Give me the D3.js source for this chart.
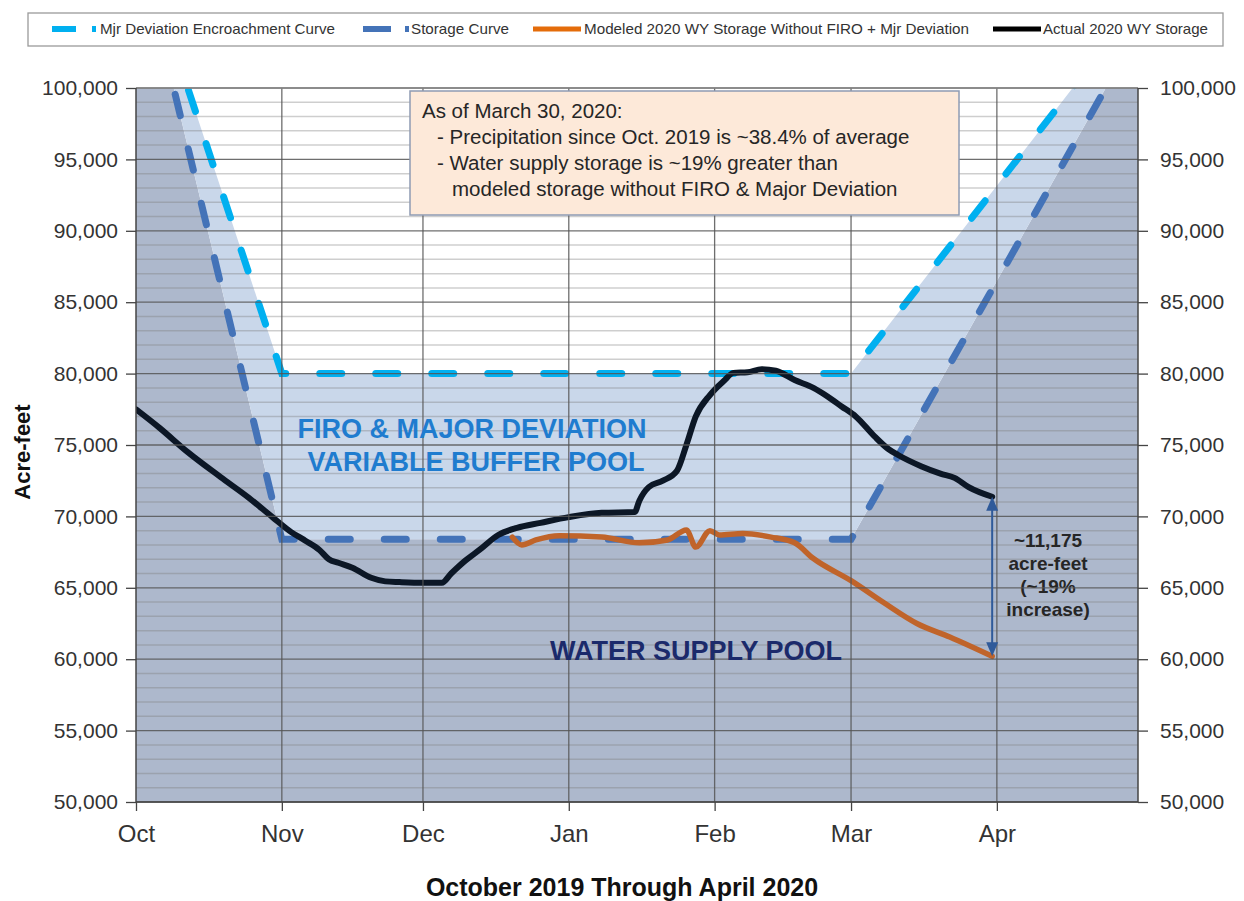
<!DOCTYPE html>
<html><head><meta charset="utf-8">
<script src="https://cdn.jsdelivr.net/npm/d3@7"></script>
<style>body{margin:0;background:#fff;} svg{display:block;font-family:"Liberation Sans",Arial,sans-serif;}</style>
</head><body><svg id="c" width="1244" height="901"></svg>
<script>
const monthTicks = ["2019-10-01","2019-11-01","2019-12-01","2020-01-01","2020-02-01","2020-03-01","2020-04-01"];
const monthLabels = ["Oct","Nov","Dec","Jan","Feb","Mar","Apr"];
const yTicks = [50000,55000,60000,65000,70000,75000,80000,85000,90000,95000,100000];
const xDomain = ["2019-10-01","2020-05-01"];
const yDomain = [50000,100000];

const curveDates = ["2019-10-01","2019-11-01","2020-03-01","2020-05-13"];
const storageCurve = [111000,68400,68400,111000];
const encroachCurve = [111000,80000,80000,111000];

const actualDates = ["2019-10-01","2019-10-06","2019-10-12","2019-10-19","2019-10-25","2019-10-30","2019-11-03","2019-11-06","2019-11-09","2019-11-11","2019-11-13","2019-11-16","2019-11-20","2019-11-23","2019-11-26","2019-12-01","2019-12-05","2019-12-07","2019-12-10","2019-12-13","2019-12-17","2019-12-21","2019-12-26","2020-01-01","2020-01-08","2020-01-15","2020-01-16","2020-01-18","2020-01-21","2020-01-24","2020-01-26","2020-01-28","2020-01-31","2020-02-03","2020-02-05","2020-02-08","2020-02-11","2020-02-14","2020-02-18","2020-02-22","2020-02-25","2020-02-28","2020-03-02","2020-03-06","2020-03-09","2020-03-11","2020-03-16","2020-03-20","2020-03-23","2020-03-26","2020-03-31"];
const actualValues = [77500,76200,74500,72750,71300,69950,68900,68300,67650,67000,66750,66400,65700,65450,65400,65350,65350,66000,66900,67650,68700,69200,69550,69950,70250,70300,71100,72050,72500,73200,75000,77000,78500,79500,80050,80100,80300,80200,79550,79000,78400,77700,77000,75600,74700,74300,73500,73000,72700,72050,71375];

const modeledDates = ["2019-12-20","2019-12-22","2019-12-25","2019-12-30","2020-01-08","2020-01-16","2020-01-22","2020-01-26","2020-01-28","2020-01-31","2020-02-02","2020-02-07","2020-02-13","2020-02-18","2020-02-22","2020-03-01","2020-03-08","2020-03-15","2020-03-22","2020-03-31"];
const modeledValues = [68550,68000,68350,68650,68550,68150,68350,69050,67850,69000,68700,68800,68550,68150,67050,65500,63950,62500,61550,60200];

const legendLabels = ["Mjr Deviation Encroachment Curve","Storage Curve","Modeled 2020 WY Storage Without FIRO + Mjr Deviation","Actual 2020 WY Storage"];
const boxLines = ["As of March 30, 2020:","- Precipitation since Oct. 2019 is ~38.4% of average","- Water supply storage is ~19% greater than","modeled storage without FIRO & Major Deviation"];
const diffLines = ["~11,175","acre-feet","(~19%","increase)"];

const P = d3.utcParse("%Y-%m-%d");
const svg = d3.select("#c");
const L=136, R=1138, T=88, B=802;
const x = d3.scaleUtc().domain(xDomain.map(P)).range([L,R]);
const y = d3.scaleLinear().domain(yDomain).range([B,T]);

svg.append("defs").append("clipPath").attr("id","pc").append("rect")
  .attr("x",L).attr("y",T).attr("width",R-L).attr("height",B-T);

const g = svg.append("g");
const clipG = g.append("g").attr("clip-path","url(#pc)");
clipG.append("rect").attr("x",L).attr("y",T).attr("width",R-L).attr("height",B-T).attr("fill","#fff");

const curveData = curveDates.map((d,i)=>({date:P(d), s:storageCurve[i], e:encroachCurve[i]}));
clipG.append("path").datum(curveData)
  .attr("d", d3.area().x(d=>x(d.date)).y0(y(50000)).y1(d=>y(d.s)))
  .attr("fill","#adb8cc");
clipG.append("path").datum(curveData)
  .attr("d", d3.area().x(d=>x(d.date)).y0(d=>y(d.s)).y1(d=>y(d.e)))
  .attr("fill","#c9d7ea");

// diff annotation text (under grid)
const diffT = g.append("text").attr("text-anchor","middle").attr("font-weight","bold")
  .attr("font-size",19).attr("fill","#262626");
diffLines.forEach((t,i)=>diffT.append("tspan").attr("x",1048).attr("y",547+i*23).text(t));

// grid
const minor = d3.range(50000,100001,1000).filter(v=>v%5000!==0);
clipG.selectAll(".mn").data(minor).enter().append("line")
  .attr("x1",L).attr("x2",R).attr("y1",d=>y(d)).attr("y2",d=>y(d))
  .attr("stroke","#7f7f7f").attr("stroke-opacity",0.38).attr("stroke-width",1.5);
g.selectAll(".mj").data(yTicks).enter().append("line")
  .attr("x1",L).attr("x2",R).attr("y1",d=>y(d)).attr("y2",d=>y(d))
  .attr("stroke","#555").attr("stroke-opacity",0.85).attr("stroke-width",1.3);
g.selectAll(".vg").data(monthTicks.slice(1)).enter().append("line")
  .attr("x1",d=>x(P(d))).attr("x2",d=>x(P(d))).attr("y1",T).attr("y2",B)
  .attr("stroke","#555").attr("stroke-opacity",0.85).attr("stroke-width",1.3);

// pool labels
g.append("text").attr("x",472).attr("y",438).attr("text-anchor","middle").attr("font-weight","bold")
  .attr("font-size",27).attr("fill","#1f7ccf").text("FIRO & MAJOR DEVIATION");
g.append("text").attr("x",476).attr("y",471).attr("text-anchor","middle").attr("font-weight","bold")
  .attr("font-size",27).attr("fill","#1f7ccf").text("VARIABLE BUFFER POOL");
g.append("text").attr("x",696).attr("y",660).attr("text-anchor","middle").attr("font-weight","bold")
  .attr("font-size",27).attr("fill","#1b2a6b").text("WATER SUPPLY POOL");

// dashed curves
clipG.append("path").attr("d", d3.line().x(d=>x(d.date)).y(d=>y(d.e))(curveData))
  .attr("fill","none").attr("stroke","#00b0f0").attr("stroke-width",7)
  .attr("stroke-dasharray","22,34").attr("stroke-linecap","round");
clipG.append("path").attr("d", d3.line().x(d=>x(d.date)).y(d=>y(d.s))(curveData))
  .attr("fill","none").attr("stroke","#4473b8").attr("stroke-width",7)
  .attr("stroke-dasharray","22,34").attr("stroke-linecap","round");

// data lines
const dl = d3.line().x(d=>x(d.date)).y(d=>y(d.v)).curve(d3.curveMonotoneX);
const modeled = modeledDates.map((d,i)=>({date:P(d), v:modeledValues[i]}));
const actual = actualDates.map((d,i)=>({date:P(d), v:actualValues[i]}));
clipG.append("path").datum(modeled).attr("d",dl).attr("fill","none")
  .attr("stroke","#c0642a").attr("stroke-width",5.5).attr("stroke-linejoin","round").attr("stroke-linecap","round");
clipG.append("path").datum(actual).attr("d",dl).attr("fill","none")
  .attr("stroke","#0c1726").attr("stroke-width",6).attr("stroke-linejoin","round").attr("stroke-linecap","round");

// arrow
const ax = x(P("2020-03-31")) ;
const ya = y(actualValues[actualValues.length-1]), yb = y(modeledValues[modeledValues.length-1]);
g.append("line").attr("x1",ax).attr("x2",ax).attr("y1",ya+12).attr("y2",yb-12)
  .attr("stroke","#2f5a9a").attr("stroke-width",2);
g.append("path").attr("d",`M${ax},${ya}L${ax-6},${ya+14}L${ax+6},${ya+14}Z`).attr("fill","#2f5a9a");
g.append("path").attr("d",`M${ax},${yb}L${ax-6},${yb-14}L${ax+6},${yb-14}Z`).attr("fill","#2f5a9a");

// plot frame
g.append("line").attr("x1",L).attr("x2",R).attr("y1",T).attr("y2",T).attr("stroke","#8a8a8a").attr("stroke-width",1.3);
g.append("line").attr("x1",L).attr("x2",L).attr("y1",T).attr("y2",B).attr("stroke","#444").attr("stroke-width",1.5);
g.append("line").attr("x1",R).attr("x2",R).attr("y1",T).attr("y2",B).attr("stroke","#444").attr("stroke-width",1.5);
g.append("line").attr("x1",L).attr("x2",R).attr("y1",B).attr("y2",B).attr("stroke","#444").attr("stroke-width",1.5);

// axes
const fmt = d3.format(",");
const yl = d3.axisLeft(y).tickValues(yTicks).tickFormat(fmt).tickSize(10).tickPadding(8);
const yr = d3.axisRight(y).tickValues(yTicks).tickFormat(fmt).tickSize(10).tickPadding(12);
const xb = d3.axisBottom(x).tickValues(monthTicks.map(P)).tickFormat((d,i)=>monthLabels[i]).tickSize(9).tickPadding(14);
function style(sel, fs){
  sel.select(".domain").remove();
  sel.selectAll(".tick line").attr("stroke","#444").attr("stroke-width",1.3);
  sel.selectAll(".tick text").attr("font-size",fs).attr("fill","#333").attr("font-family","Liberation Sans, Arial, sans-serif");
}
style(g.append("g").attr("transform",`translate(${L},0)`).call(yl), 21);
style(g.append("g").attr("transform",`translate(${R},0)`).call(yr), 21);
style(g.append("g").attr("transform",`translate(0,${B})`).call(xb), 24);

g.append("text").attr("transform","translate(30,452) rotate(-90)").attr("text-anchor","middle")
  .attr("font-weight","bold").attr("font-size",22).attr("fill","#111").text("Acre-feet");
g.append("text").attr("x",622).attr("y",896).attr("text-anchor","middle")
  .attr("font-weight","bold").attr("font-size",25).attr("fill","#111").text("October 2019 Through April 2020");

// annotation box
g.append("rect").attr("x",410).attr("y",91).attr("width",549).attr("height",124)
  .attr("fill","#fde9d9").attr("stroke","#8e9bb3").attr("stroke-width",1.5);
const bt = g.append("text").attr("font-size",20.5).attr("fill","#262626");
const bx = [422,437,437,452];
boxLines.forEach((t,i)=>bt.append("tspan").attr("x",bx[i]).attr("y",118+i*26).text(t));

// legend
const lg = svg.append("g");
lg.append("rect").attr("x",28).attr("y",13).attr("width",1195).attr("height",33)
  .attr("fill","#fff").attr("stroke","#9a9a9a").attr("stroke-width",1.3);
const ly = 29;
lg.append("line").attr("x1",52).attr("x2",96).attr("y1",ly).attr("y2",ly).attr("stroke","#00b0f0")
  .attr("stroke-width",6).attr("stroke-dasharray","24,16,4");
lg.append("line").attr("x1",363).attr("x2",409).attr("y1",ly).attr("y2",ly).attr("stroke","#4473b8")
  .attr("stroke-width",6).attr("stroke-dasharray","28,14,4");
lg.append("line").attr("x1",533).attr("x2",581).attr("y1",ly).attr("y2",ly).attr("stroke","#e46c0a").attr("stroke-width",5);
lg.append("line").attr("x1",993).attr("x2",1041).attr("y1",ly).attr("y2",ly).attr("stroke","#000").attr("stroke-width",5);
const lx = [100,411,584,1043], lw = [235,98,385,165];
legendLabels.forEach((t,i)=>lg.append("text").attr("x",lx[i]).attr("y",ly+5).attr("font-size",15)
  .attr("fill","#333").attr("textLength",lw[i]).attr("lengthAdjust","spacingAndGlyphs").text(t));
</script></body></html>
